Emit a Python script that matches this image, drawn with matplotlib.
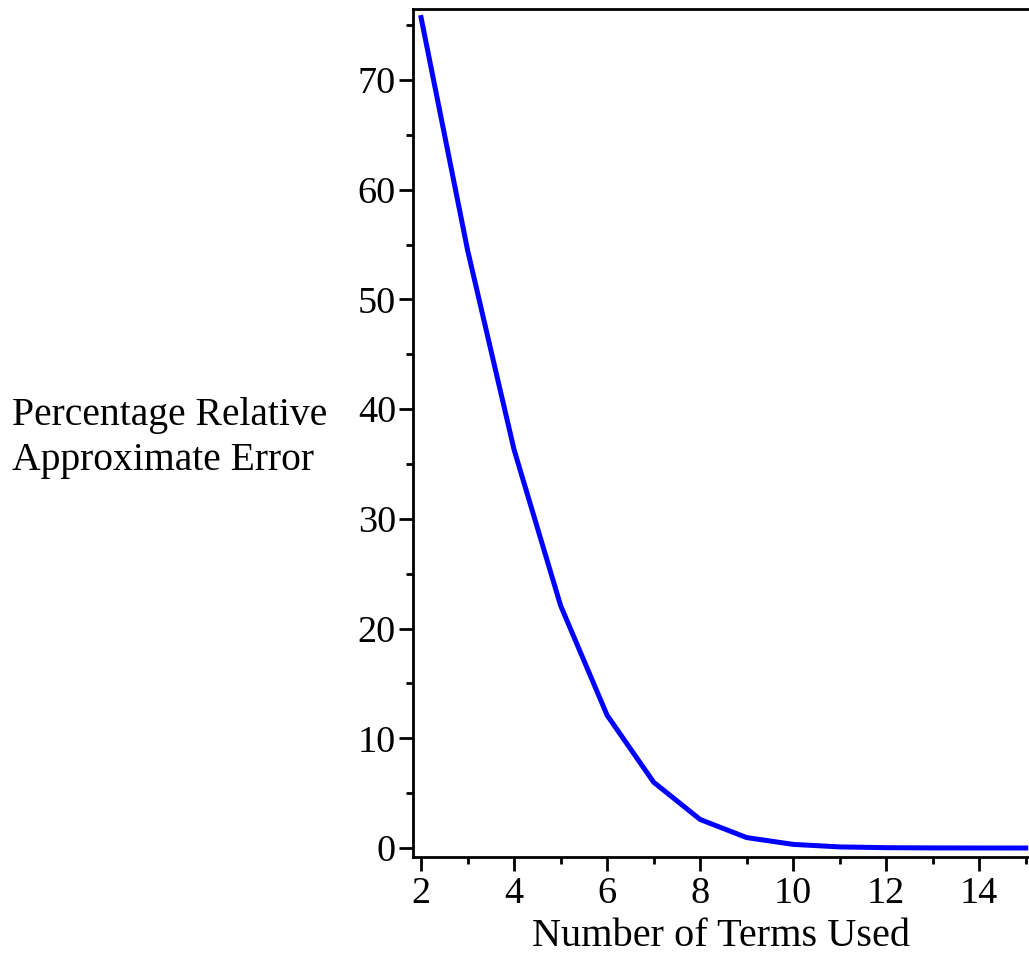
import matplotlib
matplotlib.use("Agg")
import matplotlib.pyplot as plt
from matplotlib.ticker import MultipleLocator

# number of terms vs percentage relative approximate error
terms = [2, 3, 4, 5, 6, 7, 8, 9, 10, 11, 12, 13, 14, 15]
err = [75.7, 54.5, 36.3, 22.1, 12.1, 6.0, 2.6, 0.95, 0.33, 0.10, 0.03, 0.008, 0.002, 0.0005]

plt.rcParams['font.family'] = ['Liberation Serif', 'DejaVu Serif']

W, H = 1029, 957
fig = plt.figure(figsize=(W / 100, H / 100), dpi=100)
ax = fig.add_axes([412.7 / W, 1 - 857 / H, 1 - 412.7 / W, (857 - 9) / H])

ax.plot(terms, err, color='#0000ff', lw=3.6, solid_joinstyle='miter')

ax.set_xlim(1.82, 15.07)
ax.set_ylim(-0.82, 76.48)

ax.xaxis.set_major_locator(MultipleLocator(2))
ax.xaxis.set_minor_locator(MultipleLocator(1))
ax.yaxis.set_major_locator(MultipleLocator(10))
ax.yaxis.set_minor_locator(MultipleLocator(5))

ax.spines['right'].set_visible(False)
for s in ['left', 'bottom', 'top']:
    ax.spines[s].set_linewidth(2)

ax.tick_params(which='major', direction='out', length=10, width=2, labelsize=27.5)
ax.tick_params(which='minor', direction='out', length=5, width=2)
ax.tick_params(axis='y', pad=2)
ax.tick_params(axis='x', pad=4)
ax.tick_params(top=False, right=False, which='both')

ax.set_xlabel('Number of Terms Used', fontsize=29, labelpad=5)

fig.text(12 / W, 1 - 425 / H, 'Percentage Relative', fontsize=28.5, ha='left', va='baseline')
fig.text(12 / W, 1 - 470 / H, 'Approximate Error', fontsize=28.5, ha='left', va='baseline')

fig.savefig('out.png', dpi=100)
